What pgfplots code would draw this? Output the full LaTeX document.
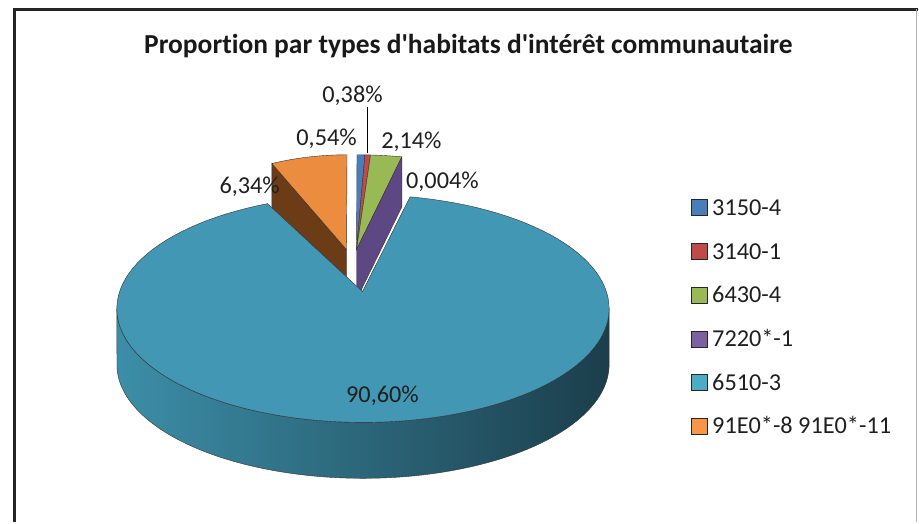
\documentclass[border=0pt]{standalone}
\usepackage{pgfplots}
\pgfplotsset{compat=1.18}
\usepackage{fontspec}
\setmainfont{Carlito}[Ligatures={TeXOff,CommonOff}]
\definecolor{cBlue}{HTML}{4A7EBB}
\definecolor{cRed}{HTML}{BE4B48}
\definecolor{cGreen}{HTML}{98B954}
\definecolor{cPurple}{HTML}{7D60A0}
\definecolor{cPurpleD}{HTML}{5E4884}
\definecolor{cTeal}{HTML}{4298B4}
\definecolor{cTealL}{HTML}{3C8EA8}
\definecolor{cTealM}{HTML}{2C6E85}
\definecolor{cTealD}{HTML}{1B3E4B}
\definecolor{cOrange}{HTML}{EC8C3E}
\definecolor{cBrown}{HTML}{6B3C16}
\definecolor{lTeal}{HTML}{4BACC6}
\definecolor{lOrange}{HTML}{F79646}
\newcommand{\legitem}[3]{%
  \filldraw[fill=#1,draw=black!85,line width=0.8pt] (axis cs:692,#3-8) rectangle (axis cs:708,#3+8);
  \node[font=\fontsize{24.3}{26}\selectfont,text=black!88,anchor=base west,inner sep=0pt] at (axis cs:713,#3+7.6) {#2};}
\begin{document}
\begin{tikzpicture}
% data (percent)
\pgfmathsetmacro{\vA}{0.54}   % 3150-4
\pgfmathsetmacro{\vB}{0.38}   % 3140-1
\pgfmathsetmacro{\vC}{2.14}   % 6430-4
\pgfmathsetmacro{\vD}{0.004}  % 7220*-1
\pgfmathsetmacro{\vE}{90.60}  % 6510-3
\pgfmathsetmacro{\vF}{6.34}   % 91E0*-8 91E0*-11
\pgfmathsetmacro{\tot}{\vA+\vB+\vC+\vD+\vE+\vF}
\pgfmathsetmacro{\kk}{360/\tot}
\pgfmathsetmacro{\aB}{\kk*\vA}
\pgfmathsetmacro{\aC}{\aB+\kk*\vB}
\pgfmathsetmacro{\aD}{\aC+\kk*\vC}
\pgfmathsetmacro{\aE}{\aD+\kk*\vD}
\pgfmathsetmacro{\aF}{\aE+\kk*\vE}
% orange wall
\pgfmathsetmacro{\oRx}{347.5+194*sin(\aF)}
\pgfmathsetmacro{\oRy}{267-112*cos(\aF)}
\pgfmathsetmacro{\oRyd}{\oRy+48}
% purple wall
\pgfmathsetmacro{\pRx}{357.5+235*sin(\aE)}
\pgfmathsetmacro{\pRy}{267-112*cos(\aE)}
\pgfmathsetmacro{\pRyd}{\pRy+50}
\begin{axis}[width=919pt,height=523pt,scale only axis,
  xmin=0,xmax=919,ymin=0,ymax=523,y dir=reverse,
  hide axis,clip=false]
\path (axis cs:0,0) rectangle (axis cs:919,523);
% frame
\draw[black!85,line width=2.6pt] (axis cs:14.5,523) -- (axis cs:14.5,9.5) -- (axis cs:919,9.5);
\draw[black!30,line width=0.8pt] (axis cs:918,9.5) -- (axis cs:918,523);
% title
\node[font=\fontsize{27.5}{30}\selectfont\bfseries,text=black!90] at (axis cs:469,46.5) {Proportion par types d'habitats d'intérêt communautaire};
% --- orange slice (exploded, back)
\addplot[fill=cBrown,draw=black!80,line width=0.4pt] coordinates {(347,250) (\oRx,\oRy) (\oRx,\oRyd) (347,298) (347,250)};
\addplot[fill=cOrange,draw=black!80,line width=0.4pt,domain=\aF:360,samples=30,variable=\t]
  ({347.5+194*sin(\t)},{267-112*cos(\t)}) -- (axis cs:347,250) -- cycle;
% --- small slices
\addplot[fill=cBlue,draw=black!80,line width=0.4pt,domain=0:\aB,samples=5,variable=\t]
  ({357.5+235*sin(\t)},{267-112*cos(\t)}) -- (axis cs:357,250) -- cycle;
\addplot[fill=cRed,draw=black!80,line width=0.4pt,domain=\aB:\aC,samples=5,variable=\t]
  ({357.5+235*sin(\t)},{267-112*cos(\t)}) -- (axis cs:357,250) -- cycle;
\addplot[fill=cGreen,draw=black!80,line width=0.4pt,domain=\aC:\aD,samples=8,variable=\t]
  ({357.5+235*sin(\t)},{267-112*cos(\t)}) -- (axis cs:357,250) -- cycle;
\addplot[fill=cPurpleD,draw=black!80,line width=0.4pt] coordinates {(357,250) (\pRx,\pRy) (\pRx,\pRyd) (357,300) (357,250)};
% --- teal slice (front)
\addplot[left color=cTealL,middle color=cTealM,right color=cTealD,draw=black!80,line width=0.4pt,
  domain=90:450,samples=181,variable=\t]
  ({363.5+246.5*sin(ifthenelse(\t<270.5,\t,540-\t))},
   {309-114*cos(ifthenelse(\t<270.5,\t,540-\t))+ifthenelse(\t<270.5,0,56)}) -- cycle;
\addplot[fill=cTeal,draw=black!80,line width=0.4pt,domain=\aE:\aF,samples=120,variable=\t]
  ({363.5+246.5*sin(\t)},{309-114*cos(\t)}) -- (axis cs:363,292) -- cycle;
% leader line
\draw[black,line width=1.4pt] (axis cs:368,107) -- (axis cs:368,153);
% data labels
\begin{scope}[every node/.style={font=\fontsize{24.3}{26}\selectfont,text=black!88,anchor=base,inner sep=0pt}]
\node at (axis cs:353,102.6) {0,38\%};
\node at (axis cs:327,145.6) {0,54\%};
\node at (axis cs:412,148.6) {2,14\%};
\node at (axis cs:443,188.6) {0,004\%};
\node at (axis cs:250,193.6) {6,34\%};
\node at (axis cs:383,402.6) {90,60\%};
\end{scope}
% legend
\legitem{cBlue}{3150-4}{208}
\legitem{cRed}{3140-1}{251.8}
\legitem{cGreen}{6430-4}{295.6}
\legitem{cPurple}{7220*-1}{339.4}
\legitem{lTeal}{6510-3}{383.2}
\legitem{lOrange}{91E0*-8 91E0*-11}{427}
\end{axis}
\end{tikzpicture}
\end{document}
